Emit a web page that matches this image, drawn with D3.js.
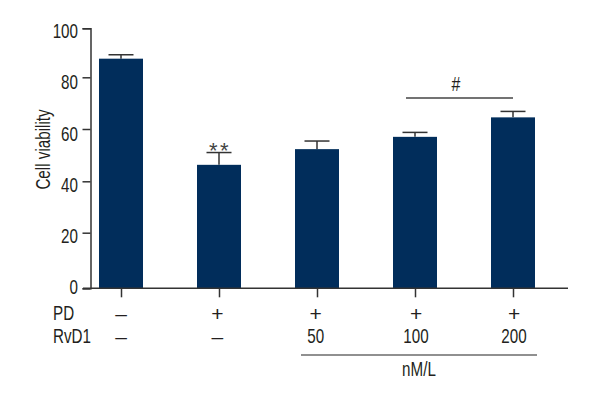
<!DOCTYPE html>
<html>
<head>
<meta charset="utf-8">
<script src="https://cdn.jsdelivr.net/npm/d3@7"></script>
<style>
  html, body { margin: 0; background: #fff; }
  text { font-family: "Liberation Sans", sans-serif; fill: #231f20; }
</style>
</head>
<body>
<div id="canvas"></div>
<script>
const groups = ["a", "b", "c", "d", "e"];
const viability = [87.6, 46.3, 52.3, 57, 64.5];
const errorTop = [89.2, 51, 55.4, 58.7, 66.8];
const pdLabels = ["–", "+", "+", "+", "+"];
const rvd1Labels = ["–", "–", "50", "100", "200"];
const yTicks = [0, 20, 40, 60, 80, 100];

const width = 600;
const height = 400;
const barWidth = 44;
const capWidth = 25;
const ink = "#333";
const narrow = 0.76; // no condensed font installed, squeeze the text instead

const svg = d3.select("#canvas").append("svg")
  .attr("width", width)
  .attr("height", height)
  .style("display", "block");

const xScale = d3.scalePoint().domain(groups).range([121, 513]);
// tick marks in the original are not evenly spaced, the labels are
const yScale = d3.scaleLinear()
  .domain(yTicks)
  .range([288.3, 232.7, 181.3, 129, 77.3, 28.3]);
const yLabelScale = d3.scaleLinear().domain([0, 100]).range([287.5, 31.2]);

// error bars first, bars sit on top
const errs = svg.append("g").selectAll("g").data(groups).enter().append("g")
  .attr("stroke", ink)
  .attr("stroke-width", 1.5);
errs.append("line")
  .attr("x1", (d) => xScale(d))
  .attr("x2", (d) => xScale(d))
  .attr("y1", (d, i) => yScale(viability[i]))
  .attr("y2", (d, i) => yScale(errorTop[i]));
errs.append("line")
  .attr("x1", (d) => xScale(d) - capWidth / 2)
  .attr("x2", (d) => xScale(d) + capWidth / 2)
  .attr("y1", (d, i) => yScale(errorTop[i]))
  .attr("y2", (d, i) => yScale(errorTop[i]));

svg.append("g").selectAll("rect").data(groups).enter().append("rect")
  .attr("x", (d) => xScale(d) - barWidth / 2)
  .attr("y", (d, i) => yScale(viability[i]))
  .attr("width", barWidth)
  .attr("height", (d, i) => yScale(0) - yScale(viability[i]))
  .attr("fill", "#012d5b");

const yAxis = svg.append("g")
  .attr("transform", "translate(90.5,0)")
  .call(d3.axisLeft(yScale).tickValues(yTicks).tickSize(8).tickFormat(""));
yAxis.selectAll("path, line").attr("stroke", ink).attr("stroke-width", 1.5);

const yLabels = svg.append("g")
  .attr("transform", "translate(90.5,0)")
  .call(d3.axisLeft(yLabelScale).tickValues(yTicks).tickSize(0));
yLabels.selectAll("path, line").remove();
yLabels.selectAll("text")
  .attr("font-size", 20)
  .attr("x", -12.5 / narrow)
  .attr("transform", `scale(${narrow},1)`);

const xAxis = svg.append("g")
  .attr("transform", `translate(0,${yScale(0)})`)
  .call(d3.axisBottom(xScale).tickSize(9).tickFormat(""));
xAxis.select(".domain").remove();
xAxis.selectAll("line").attr("stroke", ink).attr("stroke-width", 1.5);

svg.append("line")
  .attr("x1", 83).attr("x2", 568)
  .attr("y1", yScale(0)).attr("y2", yScale(0))
  .attr("stroke", ink).attr("stroke-width", 1.5);

const label = (x, y, txt, size, anchor, squeeze = narrow) =>
  svg.append("text")
    .attr("transform", `translate(${x},${y}) scale(${squeeze},1)`)
    .attr("font-size", size)
    .attr("text-anchor", anchor || "middle")
    .attr("dominant-baseline", "central")
    .text(txt);

// the sign rows are not quite centred on the ticks in the original
const rowNudge = [0, -1.7, -1.3, 1, 1];

label(53, 313, "PD", 20, "start");
label(53, 336, "RvD1", 20, "start");
groups.forEach((d, i) => {
  label(xScale(d) + rowNudge[i], 313, pdLabels[i], 21, "middle", 1);
  const isSign = rvd1Labels[i] === "–";
  label(xScale(d) + rowNudge[i], 336, rvd1Labels[i], isSign ? 21 : 20, "middle", isSign ? 1 : narrow);
});

label(419, 369, "nM/L", 20);
svg.append("line")
  .attr("x1", 301).attr("x2", 537).attr("y1", 355).attr("y2", 355)
  .attr("stroke", "#222").attr("stroke-width", 1.2);

label(456, 84, "#", 21);
svg.append("line")
  .attr("x1", 406).attr("x2", 513).attr("y1", 98).attr("y2", 98)
  .attr("stroke", "#444").attr("stroke-width", 1.5);

label(xScale("b") + 1, 150, "**", 22, "middle", 1)
  .attr("letter-spacing", 2.5)
  .attr("fill", "#444")
  .style("fill", "#444");

svg.append("text")
  .attr("transform", `translate(43,149.5) rotate(-90) scale(${narrow},1)`)
  .attr("text-anchor", "middle")
  .attr("dominant-baseline", "central")
  .attr("font-size", 20)
  .text("Cell viability");
</script>
</body>
</html>
